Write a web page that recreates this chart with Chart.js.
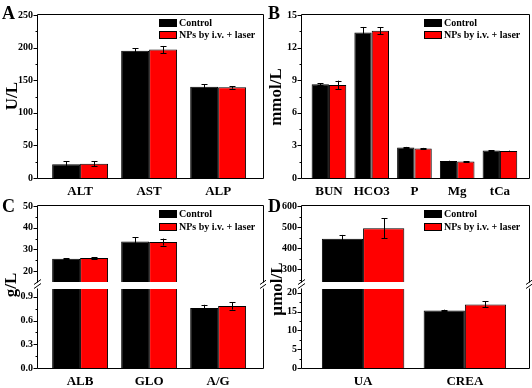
<!DOCTYPE html>
<html>
<head>
<meta charset="utf-8">
<script src="https://cdn.jsdelivr.net/npm/chart.js@4.4.0/dist/chart.umd.min.js"></script>
<style>
html, body { margin: 0; padding: 0; background: #fff; }
#fig { position: relative; width: 532px; height: 388px; overflow: hidden;
  font-family: "Liberation Serif", "Times New Roman", serif; font-weight: bold; color: #000; }
.box { position: absolute; }
.box canvas { display: block; }
.letter { position: absolute; font-size: 18px; line-height: 1; }
.ytitle { position: absolute; font-size: 17px; line-height: 1; white-space: nowrap;
  transform: translate(-50%, -50%) rotate(-90deg); }
.legend { position: absolute; font-size: 10px; line-height: 1; }
.legend .row { display: flex; align-items: center; white-space: nowrap; }
.legend .sw { display: inline-block; width: 18px; height: 8px; margin-right: 2px;
  box-sizing: border-box; border: 1px solid #000; }
</style>
</head>
<body>
<div id="fig">
  <div class="box" style="left:0;top:0"><canvas id="chA" width="266" height="200"></canvas></div>
  <div class="box" style="left:264px;top:0"><canvas id="chB" width="268" height="200"></canvas></div>
  <div class="box" style="left:0;top:195px"><canvas id="chCtop" width="266" height="98"></canvas></div>
  <div class="box" style="left:0;top:278px"><canvas id="chClow" width="266" height="110"></canvas></div>
  <div class="box" style="left:264px;top:195px"><canvas id="chDtop" width="268" height="98"></canvas></div>
  <div class="box" style="left:264px;top:278px"><canvas id="chDlow" width="268" height="110"></canvas></div>

  <div class="letter" style="left:2px;top:4px">A</div>
  <div class="letter" style="left:268px;top:4px">B</div>
  <div class="letter" style="left:2px;top:197px">C</div>
  <div class="letter" style="left:268px;top:197px">D</div>

  <div class="ytitle" style="left:11px;top:96px">U/L</div>
  <div class="ytitle" style="left:275px;top:97px">mmol/L</div>
  <div class="ytitle" style="left:10px;top:285px">g/L</div>
  <div class="ytitle" style="left:276px;top:289px">µmol/L</div>

  <div class="legend" id="legA" style="left:159px;top:17px"></div>
  <div class="legend" id="legB" style="left:424px;top:17px"></div>
  <div class="legend" id="legC" style="left:159px;top:207px"></div>
  <div class="legend" id="legD" style="left:424px;top:207px"></div>
</div>
<script>
'use strict';
const SERIES = ['Control', 'NPs by i.v. + laser'];
const COLORS = ['#000000', '#ff0000'];
const FONT = '"Liberation Serif", "Times New Roman", serif';

// A: liver enzymes (U/L)
const CATS_A = ['ALT', 'AST', 'ALP'];
const CTRL_A = [21, 195, 140];
const CTRL_A_ERR = [5, 4, 4];
const NPS_A = [22, 197, 139];
const NPS_A_ERR = [4, 5.5, 2];
const TICKS_A = [0, 50, 100, 150, 200, 250];
const MINOR_A = [25, 75, 125, 175, 225];

// B: electrolytes (mmol/L)
const CATS_B = ['BUN', 'HCO3', 'P', 'Mg', 'tCa'];
const CTRL_B = [8.62, 13.4, 2.8, 1.56, 2.54];
const CTRL_B_ERR = [0.1, 0.5, 0.06, 0.03, 0.03];
const NPS_B = [8.56, 13.55, 2.72, 1.52, 2.49];
const NPS_B_ERR = [0.4, 0.3, 0.05, 0.03, 0.03];
const TICKS_B = [0, 3, 6, 9, 12, 15];
const MINOR_B = [1.5, 4.5, 7.5, 10.5, 13.5];

// C: proteins (g/L), broken axis
const CATS_C = ['ALB', 'GLO', 'A/G'];
const CTRL_C = [25.7, 33.7, 0.76];
const CTRL_C_ERR = [0.3, 1.9, 0.04];
const NPS_C = [26.1, 33.4, 0.785];
const NPS_C_ERR = [0.4, 1.6, 0.045];
const TICKS_C_TOP = [20, 30, 40, 50];
const MINOR_C_TOP = [25, 35, 45];
const TICKS_C_LOW = [0, 0.3, 0.6, 0.9];
const MINOR_C_LOW = [0.15, 0.45, 0.75];

// D: UA / CREA (µmol/L), broken axis
const CATS_D = ['UA', 'CREA'];
const CTRL_D = [445, 15.3];
const CTRL_D_ERR = [18, 0.2];
const NPS_D = [495, 16.9];
const NPS_D_ERR = [48, 0.8];
const TICKS_D_TOP = [300, 400, 500, 600];
const MINOR_D_TOP = [250, 350, 450, 550];
const TICKS_D_LOW = [0, 5, 10, 15, 20];
const MINOR_D_LOW = [2.5, 7.5, 12.5, 17.5];

/* frame, tick marks, error bars, axis-break marks */
const deco = {
  id: 'deco',
  afterDatasetsDraw(chart, args, o) {
    const ctx = chart.ctx, a = chart.chartArea, ys = chart.scales.y;
    ctx.save();
    ctx.strokeStyle = '#000';
    ctx.lineWidth = 1;

    // error bars
    ctx.save();
    ctx.beginPath(); ctx.rect(a.left, a.top, a.right - a.left, a.bottom - a.top); ctx.clip();
    chart.data.datasets.forEach((ds, i) => {
      const meta = chart.getDatasetMeta(i);
      ds.data.forEach((v, j) => {
        if (v < ys.min || v > ys.max) return;
        const x = Math.round(meta.data[j].x) + 0.5;
        const y0 = ys.getPixelForValue(v + ds.err[j]), y1 = ys.getPixelForValue(v - ds.err[j]);
        ctx.beginPath();
        ctx.moveTo(x, y0); ctx.lineTo(x, y1);
        ctx.moveTo(x - 3, Math.round(y0) + 0.5); ctx.lineTo(x + 3, Math.round(y0) + 0.5);
        ctx.moveTo(x - 3, Math.round(y1) + 0.5); ctx.lineTo(x + 3, Math.round(y1) + 0.5);
        ctx.stroke();
      });
    });
    ctx.restore();

    // frame
    const L = a.left - 0.5, R = a.right + 0.5, T = a.top - 0.5, B = a.bottom + 0.5;
    ctx.beginPath();
    if (o.sides.includes('l')) { ctx.moveTo(L, T); ctx.lineTo(L, B); }
    if (o.sides.includes('r')) { ctx.moveTo(R, T); ctx.lineTo(R, B); }
    if (o.sides.includes('t')) { ctx.moveTo(L, T); ctx.lineTo(R, T); }
    if (o.sides.includes('b')) { ctx.moveTo(L, B); ctx.lineTo(R, B); }
    ctx.stroke();

    // y tick marks, outward
    ctx.beginPath();
    ys.ticks.forEach(t => {
      const y = Math.round(ys.getPixelForValue(t.value)) + 0.5;
      ctx.moveTo(L - 4, y); ctx.lineTo(L, y);
    });
    (o.minor || []).forEach(v => {
      const y = Math.round(ys.getPixelForValue(v)) + 0.5;
      ctx.moveTo(L - 2, y); ctx.lineTo(L, y);
    });
    ctx.stroke();

    // axis break "//" above the lower segment
    if (o.brk) {
      ctx.beginPath();
      [L, R].forEach(x => {
        [a.top - 7, a.top - 3].forEach(yc => {
          ctx.moveTo(x - 3.5, yc + 2.5); ctx.lineTo(x + 3.5, yc - 2.5);
        });
      });
      ctx.stroke();
    }
    ctx.restore();
  }
};

function makeBars(id, p) {
  const fmt = p.fmt || (v => String(v));
  return new Chart(document.getElementById(id), {
    type: 'bar',
    data: {
      labels: p.cats.map((_, i) => i + 1),
      datasets: [
        { label: SERIES[0], data: p.ctrl, err: p.ctrlErr, backgroundColor: COLORS[0], borderColor: '#000', borderWidth: 1 },
        { label: SERIES[1], data: p.nps, err: p.npsErr, backgroundColor: COLORS[1], borderColor: '#000', borderWidth: 1 }
      ]
    },
    options: {
      responsive: false, animation: false,
      categoryPercentage: 0.81, barPercentage: 1.0,
      layout: { padding: p.pad },
      plugins: { legend: { display: false }, tooltip: { enabled: false },
        deco: { sides: p.sides, minor: p.minor, brk: p.brk } },
      scales: {
        x: {
          type: 'linear', min: p.xr[0], max: p.xr[1], display: p.xAxis, offset: false,
          afterBuildTicks: s => { s.ticks = p.cats.map((_, i) => ({ value: i + 1 })); },
          afterFit: s => { s.height = p.xh; },
          grid: { display: false, drawTicks: false, offset: false }, border: { display: false },
          ticks: { callback: v => p.cats[v - 1], color: '#000', padding: 6, maxRotation: 0, autoSkip: false,
            font: { family: FONT, size: 13, weight: 'bold' } }
        },
        y: {
          min: p.yr[0], max: p.yr[1],
          afterBuildTicks: s => { s.ticks = p.ticks.map(v => ({ value: v })); },
          afterFit: s => { s.width = 38; },
          grid: { display: false, drawTicks: false }, border: { display: false },
          ticks: { callback: fmt, color: '#000', padding: 5,
            font: { family: FONT, size: 10, weight: 'bold' } }
        }
      }
    },
    plugins: [deco]
  });
}

const XR_A = [0.39, 3.65], XR_B = [0.37, 5.68], XR_D = [0.4, 2.63];

makeBars('chA', { cats: CATS_A, ctrl: CTRL_A, ctrlErr: CTRL_A_ERR, nps: NPS_A, npsErr: NPS_A_ERR,
  ticks: TICKS_A, minor: MINOR_A, yr: [0, 250], xr: XR_A, xAxis: true, xh: 22,
  pad: { top: 15, right: 3, left: 0, bottom: 0 }, sides: 'lrtb' });

makeBars('chB', { cats: CATS_B, ctrl: CTRL_B, ctrlErr: CTRL_B_ERR, nps: NPS_B, npsErr: NPS_B_ERR,
  ticks: TICKS_B, minor: MINOR_B, yr: [0, 15], xr: XR_B, xAxis: true, xh: 22,
  pad: { top: 15, right: 3, left: 0, bottom: 0 }, sides: 'lrtb' });

makeBars('chCtop', { cats: CATS_C, ctrl: CTRL_C, ctrlErr: CTRL_C_ERR, nps: NPS_C, npsErr: NPS_C_ERR,
  ticks: TICKS_C_TOP, minor: MINOR_C_TOP, yr: [15, 50], xr: XR_A, xAxis: false, xh: 0,
  pad: { top: 10, right: 3, left: 0, bottom: 8 }, sides: 'lrt' });

makeBars('chClow', { cats: CATS_C, ctrl: CTRL_C, ctrlErr: CTRL_C_ERR, nps: NPS_C, npsErr: NPS_C_ERR,
  ticks: TICKS_C_LOW, minor: MINOR_C_LOW, yr: [0, 1], xr: XR_A, xAxis: true, xh: 20,
  pad: { top: 11, right: 3, left: 0, bottom: 0 }, sides: 'lrb', brk: true, fmt: v => v.toFixed(1) });

makeBars('chDtop', { cats: CATS_D, ctrl: CTRL_D, ctrlErr: CTRL_D_ERR, nps: NPS_D, npsErr: NPS_D_ERR,
  ticks: TICKS_D_TOP, minor: MINOR_D_TOP, yr: [240, 600], xr: XR_D, xAxis: false, xh: 0,
  pad: { top: 10, right: 3, left: 0, bottom: 8 }, sides: 'lrt' });

makeBars('chDlow', { cats: CATS_D, ctrl: CTRL_D, ctrlErr: CTRL_D_ERR, nps: NPS_D, npsErr: NPS_D_ERR,
  ticks: TICKS_D_LOW, minor: MINOR_D_LOW, yr: [0, 21], xr: XR_D, xAxis: true, xh: 20,
  pad: { top: 11, right: 3, left: 0, bottom: 0 }, sides: 'lrb', brk: true });

// legends
function legend(id, rowH) {
  document.getElementById(id).innerHTML = SERIES.map((s, i) =>
    `<div class="row" style="height:${rowH}px"><span class="sw" style="background:${COLORS[i]}"></span>${s}</div>`).join('');
}
legend('legA', 12); legend('legB', 12); legend('legC', 13); legend('legD', 13);
</script>
</body>
</html>
